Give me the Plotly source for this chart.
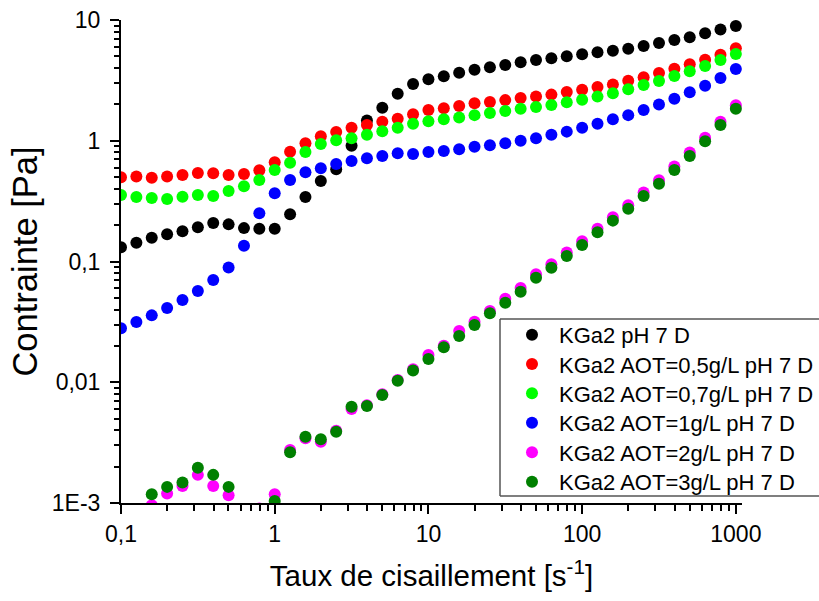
import plotly.graph_objects as go

shear_rate = [0.1, 0.1259, 0.1585, 0.1995, 0.2512, 0.3162, 0.3981, 0.5012, 0.631, 0.7943,
              1.0, 1.259, 1.585, 1.995, 2.512, 3.162, 3.981, 5.012, 6.31, 7.943,
              10.0, 12.59, 15.85, 19.95, 25.12, 31.62, 39.81, 50.12, 63.1, 79.43,
              100.0, 125.9, 158.5, 199.5, 251.2, 316.2, 398.1, 501.2, 631.0, 794.3, 1000.0]

kga2 = [0.131, 0.143, 0.157, 0.168, 0.178, 0.192, 0.208, 0.203, 0.189, 0.187,
        0.187, 0.246, 0.342, 0.465, 0.58, 0.91, 1.47, 1.88, 2.45, 2.95,
        3.23, 3.42, 3.66, 3.88, 4.06, 4.24, 4.46, 4.67, 4.82, 5.01,
        5.20, 5.40, 5.57, 5.78, 6.09, 6.45, 6.83, 7.19, 7.76, 8.34, 8.9]

aot_05 = [0.498, 0.505, 0.494, 0.506, 0.52, 0.541, 0.537, 0.52, 0.53, 0.569,
          0.663, 0.812, 0.952, 1.09, 1.18, 1.28, 1.35, 1.44, 1.52, 1.66,
          1.80, 1.86, 1.94, 2.04, 2.09, 2.17, 2.26, 2.33, 2.41, 2.53,
          2.65, 2.79, 2.93, 3.14, 3.35, 3.64, 3.95, 4.30, 4.69, 5.16, 5.83]

aot_07 = [0.356, 0.342, 0.336, 0.33, 0.344, 0.356, 0.349, 0.384, 0.42, 0.473,
          0.573, 0.658, 0.807, 0.94, 1.01, 1.05, 1.12, 1.20, 1.28, 1.38,
          1.45, 1.51, 1.56, 1.63, 1.70, 1.76, 1.84, 1.90, 1.98, 2.08,
          2.19, 2.32, 2.47, 2.67, 2.90, 3.13, 3.44, 3.76, 4.16, 4.67, 5.23]

aot_1 = [0.0280, 0.0316, 0.0358, 0.0412, 0.048, 0.057, 0.0703, 0.0891, 0.135, 0.251,
         0.367, 0.473, 0.548, 0.592, 0.642, 0.68, 0.716, 0.748, 0.787, 0.776,
         0.807, 0.822, 0.849, 0.893, 0.917, 0.953, 1.00, 1.05, 1.12, 1.19,
         1.28, 1.38, 1.51, 1.63, 1.80, 2.00, 2.23, 2.52, 2.86, 3.31, 3.93]

aot_2 = [None, None, 0.00096, 0.00120, 0.00138, 0.00171, 0.00138, 0.00116, None, 0.0009,
         0.00118, 0.00275, 0.00343, 0.00322, 0.00397, 0.00600, 0.00644, 0.00794, 0.01045, 0.0128,
         0.0168, 0.0201, 0.0266, 0.0317, 0.0389, 0.0492, 0.0604, 0.0785, 0.0951, 0.119,
         0.147, 0.187, 0.233, 0.292, 0.372, 0.471, 0.612, 0.80, 1.06, 1.44, 1.97]

aot_3 = [None, None, 0.00118, 0.00136, 0.00148, 0.00196, 0.00171, 0.00136, None, None,
         0.00104, 0.00263, 0.00354, 0.00337, 0.00389, 0.00627, 0.00635, 0.00783, 0.0103, 0.0125,
         0.0156, 0.0195, 0.0242, 0.0298, 0.0372, 0.0456, 0.0562, 0.0734, 0.0889, 0.111,
         0.137, 0.175, 0.218, 0.274, 0.348, 0.441, 0.573, 0.748, 0.989, 1.35, 1.84]

series_names = ["KGa2 pH 7 D", "KGa2 AOT=0,5g/L pH 7 D", "KGa2 AOT=0,7g/L pH 7 D",
                "KGa2 AOT=1g/L pH 7 D", "KGa2 AOT=2g/L pH 7 D", "KGa2 AOT=3g/L pH 7 D"]
series_values = [kga2, aot_05, aot_07, aot_1, aot_2, aot_3]
series_colors = ["#000000", "#FF0000", "#00FF00", "#0000FF", "#FF00FF", "#008000"]

x_tickvals = [0.1, 1, 10, 100, 1000]
x_ticktext = ["0,1", "1", "10", "100", "1000"]
y_tickvals = [0.001, 0.01, 0.1, 1, 10]
y_ticktext = ["1E-3", "0,01", "0,1", "1", "10"]

FONT = "Arial, 'Liberation Sans', sans-serif"

W, H = 819, 601
L, R, T, B = 121, 77, 20, 98
pw, ph = W - L - R, H - T - B

def px_x(p):
    return (p - L) / pw

def px_y(p):
    return (H - B - p) / ph

legend_ids = ["legend", "legend2", "legend3", "legend4", "legend5", "legend6"]
legend_rows = [335, 364.3, 393.5, 423, 452.5, 482]

fig = go.Figure()
for name, vals, col, lid in zip(series_names, series_values, series_colors, legend_ids):
    fig.add_trace(go.Scatter(
        x=shear_rate, y=vals, mode="markers", name=name, legend=lid,
        marker=dict(color=col, size=12, line=dict(width=0)),
    ))

axis_common = dict(
    type="log", showgrid=False, zeroline=False, showline=True, automargin=False,
    linecolor="black", linewidth=2, ticks="outside", ticklen=9, tickwidth=2,
    tickcolor="black", mirror=False,
    tickfont=dict(family=FONT, size=23, color="black"),
    minor=dict(ticks="outside", ticklen=5.5, tickwidth=2, tickcolor="black",
               dtick="D1", showgrid=False),
)

legends = {}
for lid, row in zip(legend_ids, legend_rows):
    legends[lid] = dict(
        x=px_x(505), y=px_y(row), xanchor="left", yanchor="middle",
        bgcolor="rgba(0,0,0,0)", borderwidth=0,
        font=dict(family=FONT, size=22, color="black"),
        itemwidth=44, tracegroupgap=0,
    )

box_line = dict(color="#555555", width=1.5)
bx0, bx1, by_top, by_bot = px_x(500), px_x(880), px_y(319), px_y(496)
box_shapes = [
    dict(type="line", xref="paper", yref="paper", x0=bx0, x1=bx1, y0=by_top, y1=by_top,
         line=box_line, layer="above"),
    dict(type="line", xref="paper", yref="paper", x0=bx0, x1=bx1, y0=by_bot, y1=by_bot,
         line=box_line, layer="above"),
    dict(type="line", xref="paper", yref="paper", x0=bx0, x1=bx0, y0=by_bot, y1=by_top,
         line=box_line, layer="above"),
]

fig.update_layout(
    width=W, height=H,
    margin=dict(l=L, r=R, t=T, b=B, autoexpand=False),
    paper_bgcolor="white", plot_bgcolor="white",
    font=dict(family=FONT, color="black"),
    xaxis=dict(axis_common, range=[-1, 3.04], tickvals=x_tickvals, ticktext=x_ticktext,
               title=dict(text="Taux de cisaillement [s<sup>-1</sup>]",
                          font=dict(family=FONT, size=29.5), standoff=20)),
    yaxis=dict(axis_common, range=[-3, 1], tickvals=y_tickvals, ticktext=y_ticktext,
               ticklabelstandoff=5,
               title=dict(text="Contrainte [Pa]",
                          font=dict(family=FONT, size=34.5), standoff=4)),
    showlegend=True,
    shapes=box_shapes,
    **legends,
)

fig.write_html("out.html", config={"displayModeBar": False},
               post_script="document.body.style.margin='0';")
